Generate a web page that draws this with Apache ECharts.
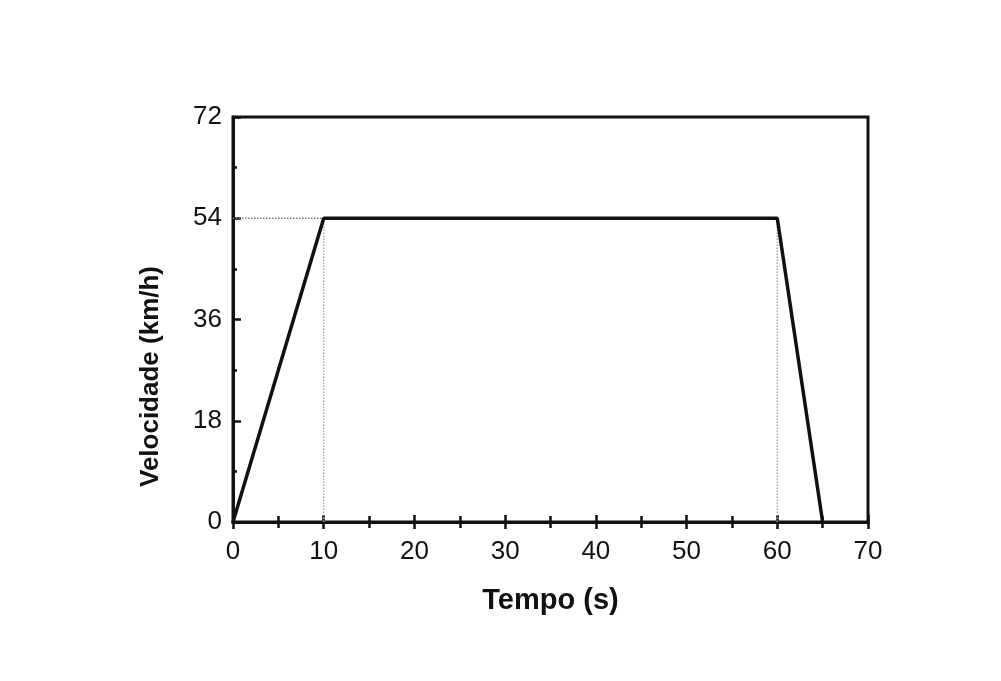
<!DOCTYPE html>
<html>
<head>
<meta charset="utf-8">
<script src="https://cdn.jsdelivr.net/npm/echarts@6/dist/echarts.min.js"></script>
<style>html,body{margin:0;padding:0;background:#fff;}#c{width:1001px;height:681px;}</style>
</head>
<body>
<div id="c"></div>
<script>
// Data
var tempo = [0, 10, 60, 65];          // s
var velocidade = [0, 54, 54, 0];      // km/h
var xTicks = [0, 10, 20, 30, 40, 50, 60, 70];
var yTicks = [0, 18, 36, 54, 72];
var xName = 'Tempo (s)';
var yName = 'Velocidade (km/h)';

var mainData = tempo.map(function (t, i) { return [t, velocidade[i]]; });
// dotted guide lines, built from the key points
var guideH = [[tempo[0], velocidade[1]], [tempo[1], velocidade[1]]];
var guideV1 = [[tempo[1], 0], [tempo[1], velocidade[1]]];
var guideV2 = [[tempo[2], 0], [tempo[2], velocidade[2]]];

var font = 'Liberation Sans, Arial, sans-serif';
var chart = echarts.init(document.getElementById('c'));
var xBase = {
  type: 'value', min: xTicks[0], max: xTicks[xTicks.length - 1], interval: 10,
  position: 'bottom', gridIndex: 0,
  splitLine: { show: false },
  axisLine: { show: true, lineStyle: { color: '#111', width: 3 } },
  minorTick: { show: true, splitNumber: 2, length: 6, lineStyle: { color: '#111', width: 2.5 } },
  minorSplitLine: { show: false }
};
var option = {
  backgroundColor: '#fff',
  animation: false,
  grid: { left: 233, right: 133, top: 117, bottom: 159, show: true, borderColor: '#111', borderWidth: 3, backgroundColor: 'transparent' },
  xAxis: [
    Object.assign({}, xBase, {
      name: xName, nameLocation: 'middle', nameGap: 64,
      nameTextStyle: { fontFamily: font, fontSize: 29, fontWeight: 'bold', color: '#111' },
      axisTick: { show: true, inside: false, length: 7, lineStyle: { color: '#111', width: 2.5 } },
      axisLabel: { show: true, margin: 17, fontFamily: font, fontSize: 26, color: '#111',
        formatter: function (v) { return xTicks.indexOf(v) >= 0 ? String(v) : ''; } }
    }),
    Object.assign({}, xBase, {
      axisTick: { show: true, inside: true, length: 7, lineStyle: { color: '#111', width: 2.5 } },
      axisLabel: { show: false }
    })
  ],
  yAxis: {
    type: 'value', min: yTicks[0], max: yTicks[yTicks.length - 1], interval: 18,
    name: yName, nameLocation: 'middle', nameGap: 69,
    nameTextStyle: { fontFamily: font, fontSize: 26, fontWeight: 'bold', color: '#111', padding: [0, 114, 0, 0] },
    splitLine: { show: false },
    axisLine: { show: true, lineStyle: { color: '#111', width: 3 } },
    axisTick: { show: true, inside: true, length: 8, lineStyle: { color: '#111', width: 2.5 } },
    minorTick: { show: true, splitNumber: 2, length: 4, lineStyle: { color: '#111', width: 2.5 } },
    axisLabel: { margin: 11, fontFamily: font, fontSize: 26, color: '#111',
      formatter: function (v) { return yTicks.indexOf(v) >= 0 ? String(v) : ''; } }
  },
  series: [
    { type: 'line', data: guideH, symbol: 'none', silent: true, lineStyle: { color: '#777', width: 1.5, type: 'dotted' }, z: 1 },
    { type: 'line', data: guideV1, symbol: 'none', silent: true, lineStyle: { color: '#aaa', width: 1.5, type: 'dotted' }, z: 1 },
    { type: 'line', data: guideV2, symbol: 'none', silent: true, lineStyle: { color: '#aaa', width: 1.5, type: 'dotted' }, z: 1 },
    { type: 'line', data: mainData, symbol: 'none', lineStyle: { color: '#111', width: 3.5 }, z: 3 }
  ]
};
chart.setOption(option);
</script>
</body>
</html>
